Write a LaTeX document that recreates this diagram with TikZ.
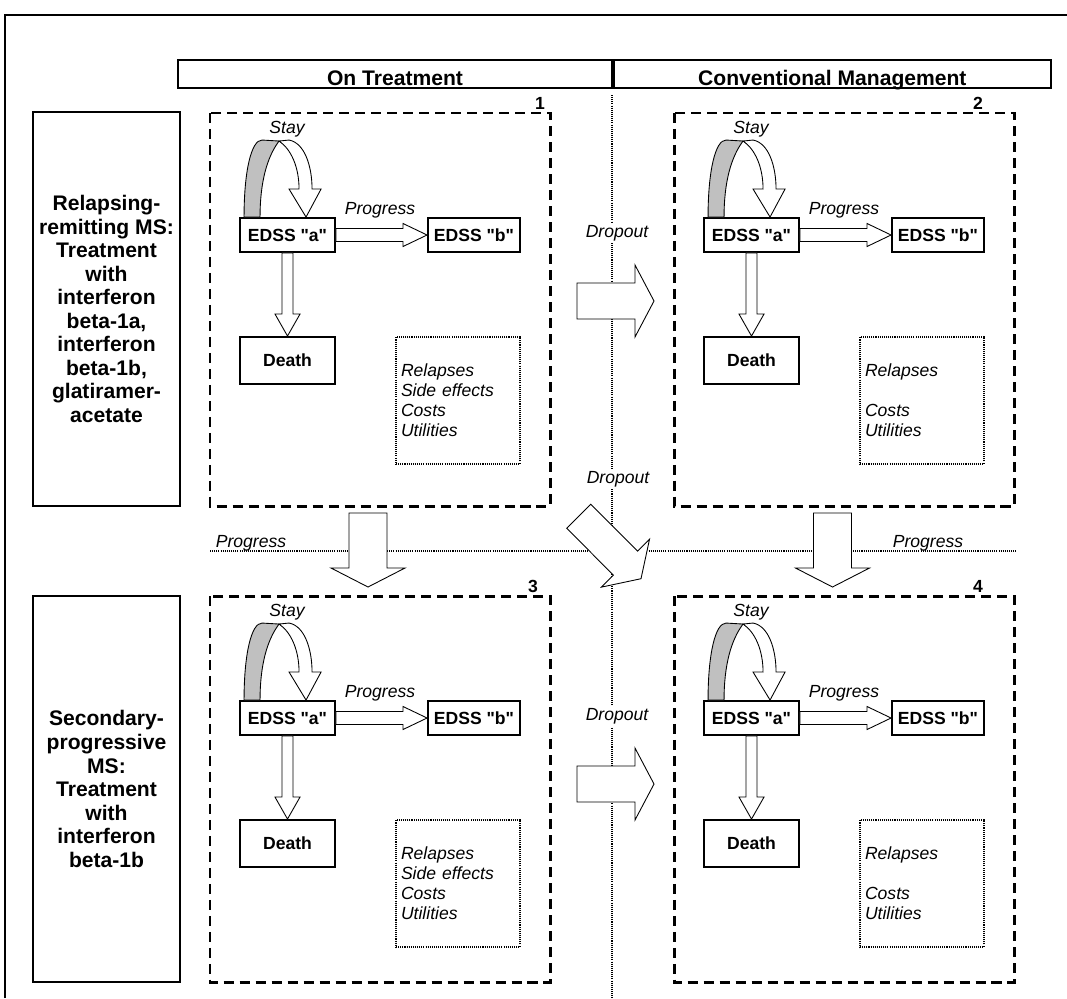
\documentclass[tikz,border=0pt]{standalone}
\usepackage{fontspec}
\setmainfont{Liberation Sans}
\newfontfamily\plainsans{Liberation Sans}
\usetikzlibrary{calc,positioning}
\definecolor{loopgray}{HTML}{C0C0C0}
\tikzset{
  state/.style={draw,line width=1.1pt,font=\plainsans\bfseries\fontsize{10}{12}\selectfont,inner sep=0pt,minimum width=1.9cm,minimum height=0.68cm},
  panel/.style={draw,line width=1.7pt,dash pattern=on 5.7pt off 3.4pt},
  effects/.style={draw,line width=0.8pt,dash pattern=on 0.6pt off 0.6pt,minimum width=2.48cm,minimum height=2.54cm,text width=2.28cm,align=left,inner sep=0.1cm,font=\itshape\fontsize{10}{11.4}\selectfont},
  group/.style={draw,line width=1.1pt,minimum width=2.94cm,align=center,font=\bfseries\fontsize{12}{13.4}\selectfont},
  head/.style={draw,line width=1.1pt,inner sep=0pt,minimum height=0.56cm,text height=13.6pt,text depth=0pt,font=\bfseries\fontsize{12}{14}\selectfont},
  blockarr/.style={draw,fill=white,line width=0.5pt,line join=miter},
  lbl/.style={font=\itshape\fontsize{10}{12}\selectfont,inner sep=1pt},
  num/.style={font=\bfseries\fontsize{10}{12}\selectfont,inner sep=0pt},
  sep/.style={line width=1.1pt,dash pattern=on 0.6pt off 0.6pt},
}
% hollow block arrow: from, to, shaft half width, head half width, head length (px)
\newcommand{\blockarrow}[5]{%
  \coordinate (ba-h) at ($(#2)!#5*0.02cm!(#1)$);
  \draw[blockarr] ($(#1)!#3*0.02cm!90:(#2)$) -- ($(ba-h)!#3*0.02cm!90:(#2)$) -- ($(ba-h)!#4*0.02cm!90:(#2)$) -- (#2)
    -- ($(ba-h)!#4*0.02cm!-90:(#2)$) -- ($(ba-h)!#3*0.02cm!-90:(#2)$) -- ($(#1)!#3*0.02cm!-90:(#2)$) -- cycle;}
\begin{document}
\begin{tikzpicture}[x=0.02cm,y=-0.02cm]
\useasboundingbox (0,0) rectangle (1067,998);
\draw[line width=0.8pt] (5,998) -- (5,15) -- (1067,15);

% column headers
\node[head,minimum width=8.68cm] (hdr1) at (395,74) {On Treatment};
\node[head,minimum width=8.74cm,right=0pt of hdr1] (hdr2) {Conventional Management};

% row labels
\node[group,minimum height=7.88cm] (rr) at (106.5,309) {Relapsing-\\remitting MS:\\Treatment\\with\\interferon\\beta-1a,\\interferon\\beta-1b,\\glatiramer-\\acetate};
\node[group,minimum height=7.72cm] (sp) at (106.5,789) {Secondary-\\progressive\\MS:\\Treatment\\with\\interferon\\beta-1b};

% separators
\coordinate (vtop) at (612,95);
\coordinate (vbot) at (612,998);
\coordinate (hl) at (210,551);
\coordinate (hr) at (1017,551);
\draw[sep] (vtop) -- (vbot);
\draw[sep] (hl) -- (hr);

% the four panels
\foreach \n/\px/\py/\h/\nx/\fx in {1/210/113/393/330/{Side effects},2/674/113/393/304/{},3/210/596/386/323/{Side effects},4/674/596/386/304/{}}{
  \begin{scope}[shift={(\px,\py)}]
    \draw[panel] (0,0) rectangle (340,\h);
    \node[num] (n\n) at (\nx,-10) {\n};
    \node[state] (a\n) at (77.5,122) {EDSS "a"};
    \node[state,minimum width=1.84cm] (b\n) at (264,122) {EDSS "b"};
    \node[state,minimum height=0.94cm] (d\n) at (77.5,247.5) {Death};
    \node[effects] (e\n) at (248,287.5) {Relapses\\\strut\fx\\Costs\\Utilities};
    \node[lbl] (s\n) at (77,16) {Stay};
    \node[lbl] (p\n) at (170,97) {Progress};
  \end{scope}
  \blockarrow{a\n.east}{b\n.west}{6.5}{11.5}{24}
  \blockarrow{a\n.south}{d\n.north}{5.5}{12.5}{22}
  \begin{scope}[shift={(a\n.north west)}]
    \draw[blockarr] (40,-76) -- (50,-77) .. controls (66,-74) and (73,-50) .. (73,-28) -- (82,-28) -- (67,0)
      -- (50,-28) -- (60,-28) .. controls (60,-50) and (52,-68) .. (40,-76) -- cycle;
    \draw[blockarr,fill=loopgray] (5,0) .. controls (5,-45) and (12,-77) .. (23,-77) -- (40,-76)
      .. controls (28,-60) and (21,-35) .. (21,0) -- cycle;
  \end{scope}
}

% transitions between panels
\coordinate (dr1s) at (577,301);
\coordinate (dr1t) at (654,301);
\coordinate (dr2s) at (577,784);
\coordinate (dr2t) at (654,784);
\coordinate (dgs) at (578.7,516.2);
\coordinate (dgt) at (641,578.7);
\coordinate (pg1s) at (368,513);
\coordinate (pg1t) at (368,587);
\coordinate (pg2s) at (832.5,513);
\coordinate (pg2t) at (832.5,587);
\blockarrow{dr1s}{dr1t}{18}{36}{19}
\blockarrow{dr2s}{dr2t}{18}{36}{19}
\blockarrow{dgs}{dgt}{17}{34}{22}
\blockarrow{pg1s}{pg1t}{19}{37}{19}
\blockarrow{pg2s}{pg2t}{19}{37}{19}
\node[lbl,fill=white] (do1) at (617,233) {Dropout};
\node[lbl,fill=white] (do2) at (618,479) {Dropout};
\node[lbl,fill=white] (do3) at (617,716) {Dropout};
\node[lbl] (pl) at (251,543) {Progress};
\node[lbl] (pr) at (928,543) {Progress};
\end{tikzpicture}
\end{document}
